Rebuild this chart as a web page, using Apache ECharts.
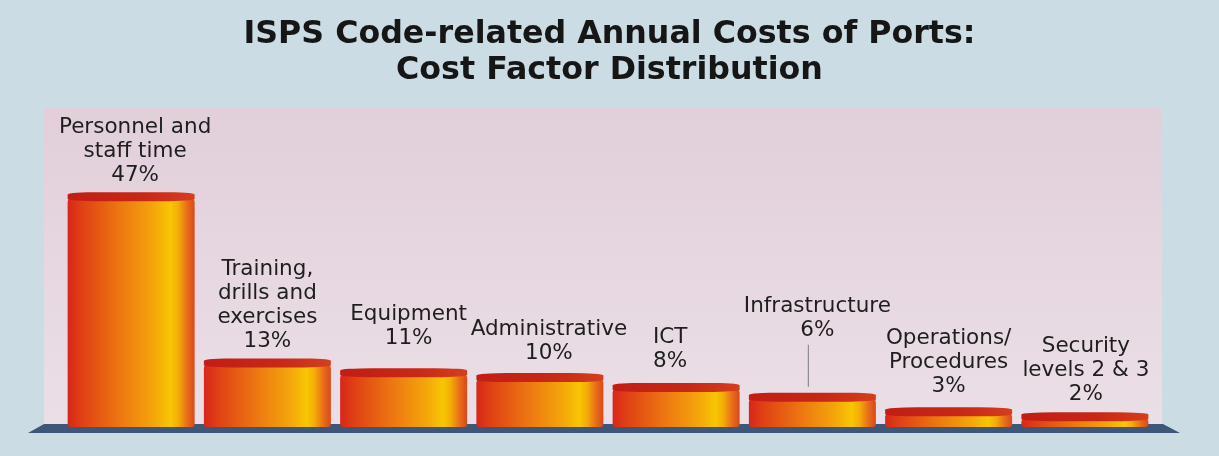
<!DOCTYPE html>
<html>
<head>
<meta charset="utf-8">
<title>ISPS Code-related Annual Costs of Ports</title>
<script src="https://cdn.jsdelivr.net/npm/echarts@6/dist/echarts.min.js"></script>
<style>
  html, body { margin: 0; padding: 0; background: #cbdce5; }
  #chart { width: 1219px; height: 456px; }
</style>
</head>
<body>
<div id="chart"></div>
<script>
// Cost factors and their share of annual ISPS-related port costs (%)
const categories = [
  'Personnel and\nstaff time',
  'Training,\ndrills and\nexercises',
  'Equipment',
  'Administrative',
  'ICT',
  'Infrastructure',
  'Operations/\nProcedures',
  'Security\nlevels 2 & 3'
];
const shares = [47, 13, 11, 10, 8, 6, 3, 2];

// Label placement tweaks: gap above the bar (px) and horizontal nudge (px)
const labelGap = [10, 10, 23, 13, 14, 55, 14, 11];
const labelShift = [4, 0, 5, 9, -6, 5, 0, 1];
// Category whose label is lifted and tied to its bar by a leader line
const calloutName = 'Infrastructure';

const FONT = 'DejaVu Sans';
const BAR_W = 127;

const cylinderFill = new echarts.graphic.LinearGradient(0, 0, 1, 0, [
  { offset: 0.00, color: '#d8261a' },
  { offset: 0.12, color: '#e04214' },
  { offset: 0.42, color: '#ed7811' },
  { offset: 0.68, color: '#f4a60a' },
  { offset: 0.81, color: '#f8c603' },
  { offset: 0.87, color: '#f4ad08' },
  { offset: 0.94, color: '#e86e18' },
  { offset: 1.00, color: '#d8481d' }
]);
const capFill = new echarts.graphic.LinearGradient(0, 0, 1, 0, [
  { offset: 0, color: '#c21d16' },
  { offset: 0.6, color: '#c82816' },
  { offset: 1, color: '#d43f1e' }
]);

const barData = shares.map((v, i) => ({
  value: v,
  label: { distance: labelGap[i], offset: [labelShift[i], 0] }
}));

const calloutIndex = categories.indexOf(calloutName);

const titleStyle = { fontFamily: FONT, fontWeight: 'bold', fontSize: 31.7, lineHeight: 36, color: '#161616' };

const chart = echarts.init(document.getElementById('chart'));
chart.setOption({
  backgroundColor: '#cbdce5',
  animation: false,
  title: [
    { text: 'ISPS Code-related Annual Costs of Ports:', left: 'center', top: 12, textStyle: titleStyle },
    { text: 'Cost Factor Distribution', left: 'center', top: 48, textStyle: titleStyle }
  ],
  graphic: [
    {
      // back wall of the chart
      type: 'rect', z: -10,
      shape: { x: 44, y: 108, width: 1118, height: 317 },
      style: {
        fill: new echarts.graphic.LinearGradient(0, 0, 0, 1, [
          { offset: 0, color: '#e1cfda' },
          { offset: 1, color: '#ebdfe7' }
        ])
      }
    },
    {
      // floor slab under the bars
      type: 'polygon', z: -9,
      shape: { points: [[44, 424], [1163, 424], [1180, 433], [28, 433]] },
      style: { fill: '#3e5779' }
    }
  ],
  grid: { left: 63, right: 66, top: 182.5, bottom: 29 },
  xAxis: {
    type: 'category',
    data: categories,
    show: false
  },
  yAxis: {
    type: 'value',
    min: 0, max: 50,
    show: false
  },
  series: [
    {
      type: 'bar',
      data: barData,
      barWidth: BAR_W,
      itemStyle: { color: cylinderFill, borderRadius: [5, 5, 3, 3] },
      label: {
        show: true,
        position: 'top',
        fontFamily: FONT,
        fontSize: 21.5,
        lineHeight: 24,
        color: '#1e1e1e',
        align: 'center',
        formatter: p => p.name + '\n' + p.value + '%'
      },
      z: 2
    },
    {
      // darker rim on top of each cylinder
      type: 'pictorialBar',
      data: shares,
      symbol: 'roundRect',
      symbolSize: [BAR_W, 9],
      symbolPosition: 'end',
      symbolOffset: [0, -5],
      barWidth: BAR_W,
      itemStyle: { color: capFill },
      silent: true,
      z: 3
    },
    {
      // leader line from the lifted label down to its bar
      type: 'custom',
      data: [[calloutIndex, shares[calloutIndex]]],
      renderItem: (params, api) => {
        const p = api.coord([api.value(0), api.value(1)]);
        return {
          type: 'line',
          shape: { x1: p[0] - 4, y1: p[1] - 11, x2: p[0] - 4, y2: p[1] - 53 },
          style: { stroke: '#8c8c8c', lineWidth: 1.2 }
        };
      },
      silent: true,
      z: 3
    }
  ]
});
</script>
</body>
</html>
